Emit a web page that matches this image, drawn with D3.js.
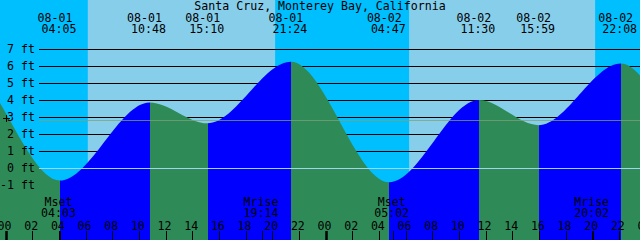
<!DOCTYPE html>
<html><head><meta charset="utf-8">
<script src="https://cdn.jsdelivr.net/npm/d3@7"></script>
<style>html,body{margin:0;padding:0;background:#fff}svg{display:block}text{font-family:"DejaVu Sans Mono",monospace;font-size:11.6px;fill:#000}</style>
</head><body>
<script>
// ---- data ----
const title = "Santa Cruz, Monterey Bay, California";
const tideTimes = ["2024-07-31 14:22","2024-07-31 20:40","2024-08-01 04:05","2024-08-01 10:48","2024-08-01 15:10","2024-08-01 21:24","2024-08-02 04:47","2024-08-02 11:30","2024-08-02 15:59","2024-08-02 22:08","2024-08-03 05:30","2024-08-03 12:12"];
const tideHeights = [2.7, 6.2, -0.74, 3.86, 2.63, 6.25, -0.84, 4.0, 2.52, 6.15, -0.8, 4.1];
const sunrises = ["2024-08-01 06:10","2024-08-02 06:16"];
const sunsets  = ["2024-08-01 20:13","2024-08-02 20:13"];
const moonTimes = ["2024-08-01 04:03","2024-08-01 19:14","2024-08-02 05:02","2024-08-02 20:02"];
const moonLabels = ["Mset","Mrise","Mset","Mrise"];
const depthTicks = [-1,0,1,2,3,4,5,6,7];
const mslFt = 2.8;
const timeStart = "2024-07-31 23:35", timeEnd = "2024-08-02 23:35";

// ---- setup ----
const W = 640, H = 240;
const parse = d3.utcParse("%Y-%m-%d %H:%M");
const fmtDate = d3.utcFormat("%m-%d"), fmtTime = d3.utcFormat("%H:%M"), fmtHour = d3.utcFormat("%H");
const t0 = parse(timeStart), t1 = parse(timeEnd);
const x = d3.scaleUtc().domain([t0, t1]).range([0, W]);
const y = d3.scaleLinear().domain([0, 7]).range([168, 49]);
const tides = tideTimes.map((t, i) => ({t: parse(t), h: tideHeights[i]}));

const svg = d3.select("body").append("svg").attr("width", W).attr("height", H);
const NIGHT = "#00bfff", DAY = "#87ceeb", FLOOD = "#0000ff", EBB = "#2e8b57";

// background
svg.append("rect").attr("width", W).attr("height", H).attr("fill", NIGHT);
sunrises.forEach((s, i) => {
  const a = x(parse(s)), b = x(parse(sunsets[i]));
  svg.append("rect").attr("x", a).attr("y", 0).attr("width", b - a).attr("height", H).attr("fill", DAY);
});

// depth lines (under fill)
svg.append("g").selectAll("line").data(depthTicks.filter(d => d !== 0)).join("line")
  .attr("x1", 39).attr("x2", W).attr("y1", d => Math.round(y(d)) + 0.5).attr("y2", d => Math.round(y(d)) + 0.5)
  .attr("stroke", "#000").attr("stroke-width", 1);

// tide fill
const area = d3.area().x(d => x(d.t)).y0(H).y1(d => y(d.h)).curve(d3.curveMonotoneX);
svg.append("clipPath").attr("id", "tideclip").append("path").attr("d", area(tides));
const fills = svg.append("g").attr("clip-path", "url(#tideclip)");
d3.pairs(tides).forEach(([a, b]) => {
  fills.append("rect").attr("x", x(a.t)).attr("y", 0).attr("width", x(b.t) - x(a.t)).attr("height", H)
    .attr("fill", b.h > a.h ? FLOOD : EBB).attr("shape-rendering", "crispEdges");
});

// datum and MSL lines (over fill)
svg.append("line").attr("x1", 39).attr("x2", W).attr("y1", Math.round(y(0)) + 0.5).attr("y2", Math.round(y(0)) + 0.5)
  .attr("stroke", "#9fd6ec");
svg.append("line").attr("x1", 39).attr("x2", W).attr("y1", Math.round(y(mslFt)) + 0.5).attr("y2", Math.round(y(mslFt)) + 0.5)
  .attr("stroke", "rgb(127,160,120)").attr("stroke-opacity", 0.75);

// depth labels
svg.append("g").selectAll("text").data(depthTicks).join("text")
  .attr("x", 35).attr("y", d => y(d) + 4).attr("text-anchor", "end").text(d => d + " ft");

// MSL "+" mark
const my = Math.round(y(mslFt)) - 1.5;
svg.append("path").attr("d", `M3,${my}H10M6.5,${my - 3.5}V${my + 3.5}`).attr("stroke", "#000").attr("fill", "none");

// title
svg.append("text").attr("x", W / 2).attr("y", 10).attr("text-anchor", "middle").text(title);

// tide event labels
const shown = tides.filter(d => d.t >= t0 && d.t <= t1);
const evG = svg.append("g").selectAll("g").data(shown).join("g");
evG.append("text").attr("x", d => x(d.t) - 5).attr("y", 22).attr("text-anchor", "middle").text(d => fmtDate(d.t));
evG.append("text").attr("x", d => x(d.t) - 1).attr("y", 33).attr("text-anchor", "middle").text(d => fmtTime(d.t));

// moon events
const moon = moonTimes.map((t, i) => ({t: parse(t), label: moonLabels[i]}));
const mg = svg.append("g").selectAll("g").data(moon).join("g");
mg.append("text").attr("x", d => x(d.t) - 1).attr("y", 206).attr("text-anchor", "middle").text(d => d.label);
mg.append("text").attr("x", d => x(d.t) - 1).attr("y", 217).attr("text-anchor", "middle").text(d => fmtTime(d.t));
mg.append("line").attr("x1", d => Math.round(x(d.t)) + 0.5).attr("x2", d => Math.round(x(d.t)) + 0.5)
  .attr("y1", 231).attr("y2", H).attr("stroke", "#000");

// hour axis
const hours = d3.utcHour.every(2).range(d3.utcDay.ceil(t0), d3.utcHour.offset(t1, 2));
svg.append("g").selectAll("text").data(hours).join("text")
  .attr("x", d => x(d) - 1).attr("y", 229.5).attr("text-anchor", "middle").text(d => fmtHour(d));
svg.append("g").selectAll("line").data(hours).join("line")
  .attr("x1", d => Math.round(x(d)) + 0.5).attr("x2", d => Math.round(x(d)) + 0.5)
  .attr("y1", 231).attr("y2", H).attr("stroke", "#000")
  .attr("stroke-width", d => d.getUTCHours() === 0 ? 2.5 : 1);
</script>
</body></html>
